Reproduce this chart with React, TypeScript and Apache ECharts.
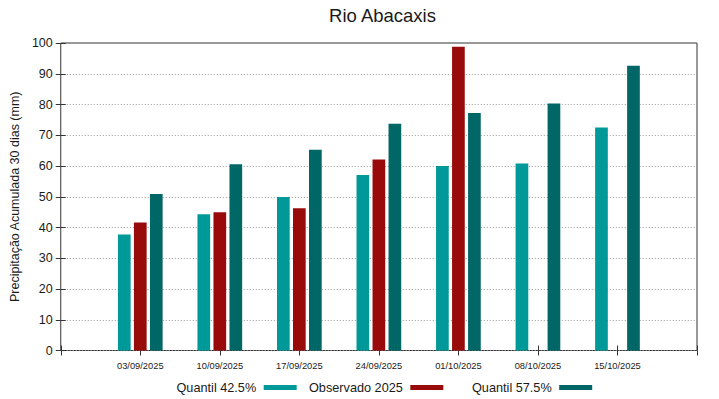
import React, { useEffect, useRef } from "react";
import * as echarts from "echarts";

const categories = ["03/09/2025", "10/09/2025", "17/09/2025", "24/09/2025", "01/10/2025", "08/10/2025", "15/10/2025"];
const quantil425 = [37.7, 44.3, 49.9, 57.1, 60.0, 60.8, 72.5];
const observado2025: (number | null)[] = [41.6, 45.0, 46.3, 62.1, 98.8, null, null];
const quantil575 = [50.9, 60.6, 65.3, 73.7, 77.2, 80.3, 92.6];
const yTicks = [0, 10, 20, 30, 40, 50, 60, 70, 80, 90, 100];

const seriesNames = ["Quantil 42.5%", "Observado 2025", "Quantil 57.5%"];
const colors = ["#009999", "#990b0b", "#006666"];

export default function App() {
  const ref = useRef<HTMLDivElement>(null);
  useEffect(() => {
    if (!ref.current) return;
    const chart = echarts.init(ref.current, null, { renderer: "svg" });
    const font = "Liberation Sans";
    const toData = (arr: (number | null)[]) => arr.map((v, i) => [i + 1, v]);
    const textColor = "#1a1a1a";
    const legendPos = [176.5, 309, 472];
    chart.setOption({
      animation: false,
      textStyle: { fontFamily: font },
      title: {
        text: "Rio Abacaxis",
        left: 377.5,
        textAlign: "center",
        top: 1,
        textStyle: { fontFamily: font, fontSize: 18.5, fontWeight: "normal", color: textColor },
      },
      legend: seriesNames.map((n, i) => ({
        data: [n],
        left: legendPos[i],
        top: 381,
        align: "right",
        icon: "rect",
        itemWidth: 33,
        itemHeight: 5,
        itemGap: 0,
        padding: 0,
        textStyle: { fontFamily: font, fontSize: 12.7, color: textColor, padding: [0, 2.5, 0, 0] },
      })),
      grid: {
        left: 58,
        right: 22,
        top: 43,
        bottom: 48.5,
        show: true,
        borderColor: "#333",
        borderWidth: 1,
        backgroundColor: "transparent",
      },
      xAxis: [
        {
          type: "value",
          min: 0,
          max: 8,
          interval: 1,
          position: "bottom",
          axisLine: { show: false },
          axisTick: { show: true, inside: true, length: 5, lineStyle: { color: "#333" } },
          splitLine: { show: false },
          axisLabel: {
            margin: 11,
            fontSize: 9.3,
            color: textColor,
            fontFamily: font,
            formatter: (v: number) => categories[v - 1] ?? "",
          },
        },
        {
          type: "value",
          min: 0,
          max: 8,
          interval: 1,
          position: "top",
          axisLine: { show: false },
          axisTick: { show: true, inside: true, length: 5, lineStyle: { color: "#333" } },
          splitLine: { show: false },
          axisLabel: { show: false },
        },
      ],
      yAxis: [
        {
          type: "value",
          min: yTicks[0],
          max: yTicks[yTicks.length - 1],
          interval: 10,
          name: "Precipitação Acumulada 30 dias (mm)",
          nameLocation: "middle",
          nameGap: 31,
          nameTextStyle: { fontFamily: font, fontSize: 12.5, color: textColor, padding: [0, 0, 0, 0] },
          axisLine: { show: false },
          axisTick: { show: true, inside: true, length: 5, lineStyle: { color: "#333" } },
          axisLabel: { margin: 8, fontSize: 12.5, color: textColor, fontFamily: font },
          splitLine: { show: true, lineStyle: { type: [1, 2], color: "#999", width: 1 } },
        },
        {
          type: "value",
          min: 0,
          max: 100,
          interval: 10,
          position: "right",
          axisLine: { show: false },
          axisTick: { show: true, inside: true, length: 5, lineStyle: { color: "#333" } },
          axisLabel: { show: false },
          splitLine: { show: false },
        },
      ],
      series: [quantil425, observado2025, quantil575].map((arr, i) => ({
        name: seriesNames[i],
        type: "bar",
        xAxisIndex: 0,
        yAxisIndex: 0,
        data: toData(arr),
        barWidth: 12.7,
        barGap: "26%",
        itemStyle: { color: colors[i] },
      })),
    });
    return () => chart.dispose();
  }, []);
  return <div ref={ref} style={{ width: 719, height: 399, position: "absolute", left: 0, top: 0 }} />;
}
